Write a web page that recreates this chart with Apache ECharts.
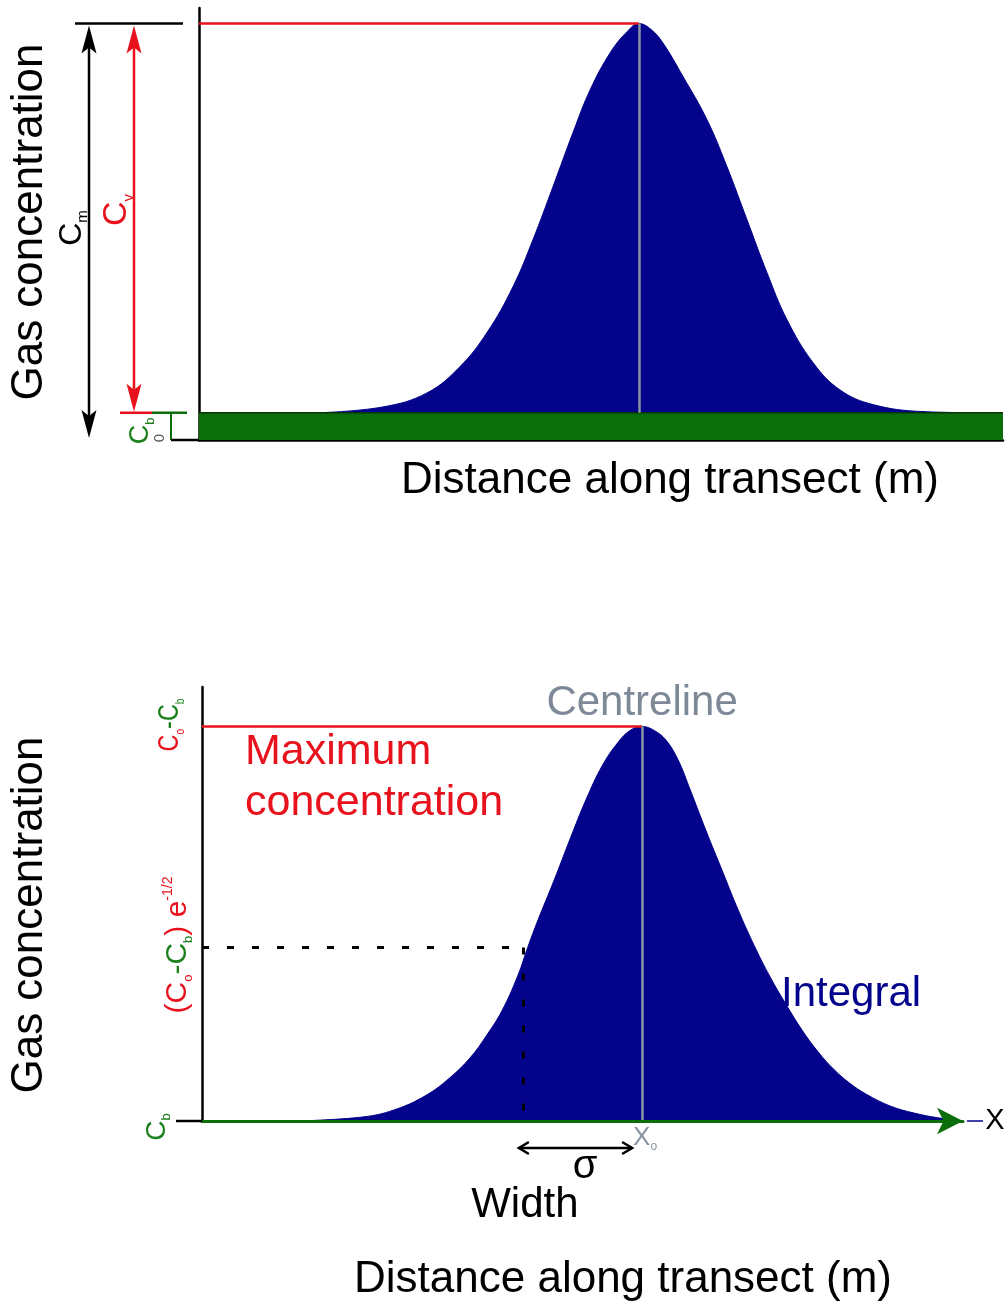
<!DOCTYPE html>
<html>
<head>
<meta charset="utf-8">
<script src="https://cdn.jsdelivr.net/npm/echarts@6/dist/echarts.min.js"></script>
<style>
  html, body { margin: 0; padding: 0; background: #ffffff; }
  #chart { width: 1007px; height: 1303px; }
</style>
</head>
<body>
<div id="chart"></div>
<script>
// ---- Upper panel: plume profile sitting on a background concentration ----
const topDistance = [15, 23, 28.5, 32.6, 36, 39.25, 41.75, 44.25, 46.75, 48.9, 51.4, 53.5, 55,
                     56.5, 58, 60.5, 63.5, 66, 68.5, 71, 73.5, 76.75, 80.1, 84.25, 90.5, 98];
const topExcess   = [0, 1.5, 5.1, 11.8, 20.6, 32.4, 44.5, 58.1, 72, 83, 92.5, 97.9, 100,
                     98.5, 95, 86.4, 75.3, 63.2, 49.6, 36, 23.9, 12.9, 5.9, 2.1, 0.3, 0];
const topBackground = 7;     // C_b
const topPeak = 100;         // C_v (peak above background)
const topXMax = 100.5;
const topYMax = 111;

// ---- Lower panel: Gaussian description (concentration above background) ----
const lowDistance = [12, 20, 24, 28, 31, 33.5, 35.5, 37.5, 39.5, 40.7, 42, 44, 46, 48, 50, 52, 53.5, 55,
                     56.5, 58, 59.5, 61, 63, 65, 67, 69, 71, 73, 75, 77, 79, 81, 83, 86, 89, 92, 95];
const lowExcess   = [0, 1, 2.8, 6.5, 11, 16, 21.5, 28, 37, 44, 51, 61, 71.5, 81.5, 90, 96, 99, 100,
                     99, 96.5, 91.5, 84, 73.5, 63.5, 53.5, 44.5, 36.5, 29.5, 23, 17.5, 13, 9.5, 6.8, 3.8, 2, 0.8, 0];
const lowPeak = 100;         // C_o - C_b
const sigmaDistance = 40.1;  // x_o - sigma
const sigmaLevel = 44;       // level marked as (C_o - C_b) e^-1/2
const lowXMax = 95.1;
const lowYMax = 110;

const centreDistance = 55;   // x_o

const NAVY = '#03038c', RED = '#e8121c', GREEN = '#0b6e0b', GREEN_TXT = '#1b801b',
      GREY = '#8a94a3', FONT = '"Liberation Sans", Arial, Helvetica, sans-serif';

const chart = echarts.init(document.getElementById('chart'), null, { renderer: 'canvas' });

const hiddenAxisBits = {
  axisTick: { show: false }, axisLabel: { show: false }, splitLine: { show: false }
};

chart.setOption({
  animation: false,
  backgroundColor: '#ffffff',
  grid: [
    { left: 199, top: 8, width: 804, height: 432 },
    { left: 202, top: 687, width: 761, height: 434 }
  ],
  xAxis: [
    Object.assign({ type: 'value', gridIndex: 0, min: 0, max: topXMax,
      axisLine: { lineStyle: { color: '#000', width: 2.5 } } }, hiddenAxisBits),
    Object.assign({ type: 'value', gridIndex: 1, min: 0, max: lowXMax, z: 5,
      axisLine: { symbol: ['none', 'arrow'], symbolSize: [20, 26], symbolOffset: [0, 0],
                  lineStyle: { color: GREEN, width: 3 } } }, hiddenAxisBits)
  ],
  yAxis: [
    Object.assign({ type: 'value', gridIndex: 0, min: 0, max: topYMax,
      axisLine: { show: true, lineStyle: { color: '#000', width: 2.5 } } }, hiddenAxisBits),
    Object.assign({ type: 'value', gridIndex: 1, min: 0, max: lowYMax,
      axisLine: { show: true, lineStyle: { color: '#000', width: 2.5 } } }, hiddenAxisBits)
  ],
  series: [
    {
      name: 'Plume',
      type: 'line', xAxisIndex: 0, yAxisIndex: 0,
      data: topDistance.map((d, i) => [d, topBackground + topExcess[i]]),
      smooth: 0.4, showSymbol: false, z: 2,
      lineStyle: { color: NAVY, width: 1 },
      areaStyle: { color: NAVY, opacity: 1, origin: 'start' },
      markLine: {
        silent: true, symbol: 'none', label: { show: false }, z: 4,
        data: [
          [{ coord: [0, topBackground + topPeak], lineStyle: { color: RED, width: 2.5, type: 'solid' } },
           { coord: [centreDistance, topBackground + topPeak] }],
          [{ coord: [centreDistance, topBackground], lineStyle: { color: GREY, width: 2.5, type: 'solid' } },
           { coord: [centreDistance, topBackground + topPeak] }]
        ]
      }
    },
    {
      name: 'Background',
      type: 'line', xAxisIndex: 0, yAxisIndex: 0,
      data: [[0, topBackground], [topXMax, topBackground]],
      showSymbol: false, z: 3,
      lineStyle: { color: '#073507', width: 1.5 },
      areaStyle: { color: GREEN, opacity: 1, origin: 'start' }
    },
    {
      name: 'Gaussian',
      type: 'line', xAxisIndex: 1, yAxisIndex: 1,
      data: lowDistance.map((d, i) => [d, lowExcess[i]]),
      smooth: 0.4, showSymbol: false, z: 2,
      lineStyle: { color: NAVY, width: 1 },
      areaStyle: { color: NAVY, opacity: 1, origin: 'start' },
      markLine: {
        silent: true, symbol: 'none', label: { show: false }, z: 4,
        data: [
          [{ coord: [0, lowPeak], lineStyle: { color: RED, width: 2.5, type: 'solid' } },
           { coord: [centreDistance, lowPeak] }],
          [{ coord: [centreDistance, 0], lineStyle: { color: GREY, width: 2.5, type: 'solid' } },
           { coord: [centreDistance, lowPeak] }],
          [{ coord: [0, sigmaLevel], lineStyle: { color: '#000', width: 3, type: [7, 18] } },
           { coord: [sigmaDistance - 1, sigmaLevel] }],
          [{ coord: [sigmaDistance, sigmaLevel], lineStyle: { color: '#000', width: 3, type: [7, 19] } },
           { coord: [sigmaDistance, 0] }]
        ]
      }
    }
  ]
});

// ---- Annotations placed from the axes' own scales ----
const px = (g, x, y) => chart.convertToPixel({ xAxisIndex: g, yAxisIndex: g }, [x, y]);

function line(x1, y1, x2, y2, color, w) {
  return { type: 'line', shape: { x1, y1, x2, y2 }, style: { stroke: color, lineWidth: w }, z: 10 };
}
function arrowHead(x, tip, dir, color) {
  // barbed arrow head pointing up (dir = -1) or down (dir = 1)
  return { type: 'polygon', z: 11,
    shape: { points: [[x, tip], [x - 7.5, tip - dir * 28], [x, tip - dir * 22], [x + 7.5, tip - dir * 28]] },
    style: { fill: color } };
}
function chevron(x, y, dir) {
  return { type: 'polyline', z: 11,
    shape: { points: [[x + dir * 10, y - 6], [x, y], [x + dir * 10, y + 6]] },
    style: { stroke: '#000', lineWidth: 2.5, fill: null } };
}
function text(x, y, str, opt) {
  return { type: 'text', x, y, z: 12, rotation: opt.rotation || 0, scaleX: opt.scaleX || 1,
    style: Object.assign({ text: str, fontFamily: FONT, textAlign: 'center', textVerticalAlign: 'middle' }, opt.style) };
}
const VERT = Math.PI / 2;

const yTopPeak = px(0, 0, topBackground + topPeak)[1];
const yTopBg = px(0, 0, topBackground)[1];
const yTop0 = px(0, 0, 0)[1];
const xTopAxis = px(0, 0, 0)[0];

const yLow0 = px(1, 0, 0)[1];
const xLowAxis = px(1, 0, 0)[0];
const xLowCentre = px(1, centreDistance, 0)[0];
const xLowSigma = px(1, sigmaDistance, 0)[0];
const xLowEnd = px(1, lowXMax, 0)[0];

const sub = (size, color) => ({ fontSize: size, lineHeight: size, verticalAlign: 'bottom', fill: color, fontFamily: FONT });
const sup = (size, color) => ({ fontSize: size, lineHeight: size, verticalAlign: 'top', fill: color, fontFamily: FONT });
const main = (size, color) => ({ fontSize: size, lineHeight: size + 4, fill: color, fontFamily: FONT });

const graphics = [
  // upper panel: C_m and C_v dimension arrows
  line(75, yTopPeak, 183, yTopPeak, '#000', 2.5),
  line(89, yTopPeak + 10, 89, yTop0 - 10, '#000', 2.5),
  arrowHead(89, yTopPeak + 2, -1, '#000'),
  arrowHead(89, yTop0 - 2, 1, '#000'),
  line(134, yTopPeak + 10, 134, yTopBg - 10, RED, 2.5),
  arrowHead(134, yTopPeak + 2, -1, RED),
  arrowHead(134, yTopBg - 1, 1, RED),
  line(120, yTopBg, 152, yTopBg, RED, 2.5),
  line(152, yTopBg, 187, yTopBg, GREEN, 2.5),
  line(171, yTopBg, 171, yTop0, GREEN, 2),
  line(171, yTop0, xTopAxis, yTop0, '#000', 2.5),
  text(72, 228, '{c|C}{s|m}', { rotation: VERT, style: { rich: { c: main(32, '#000'), s: sub(15, '#000') } } }),
  text(117, 210, '{c|C}{s|v}', { rotation: VERT, style: { rich: { c: main(34, RED), s: sub(15, RED) } } }),
  text(141, 431, '{c|C}{s|b}', { rotation: VERT, style: { rich: { c: main(27, GREEN_TXT), s: sub(13, GREEN_TXT) } } }),
  text(160, 438, '0', { rotation: VERT, style: { fontSize: 15, fill: '#555' } }),
  text(30, 222, 'Gas concentration', { rotation: VERT, style: { fontSize: 44, fill: '#000' } }),
  text(670, 481, 'Distance along transect (m)', { style: { fontSize: 44, fill: '#000' } }),

  // lower panel
  line(176, yLow0, xLowAxis, yLow0, '#000', 2.5),
  line(xLowEnd + 4, yLow0, xLowEnd + 20, yLow0, NAVY, 1.5),
  text(995, yLow0, 'X', { style: { fontSize: 29, fill: '#000' } }),
  text(xLowCentre, 703, 'Centreline', { style: { fontSize: 42, fill: '#7d8997' } }),
  text(245, 752, 'Maximum', { style: { fontSize: 43, fill: RED, textAlign: 'left' } }),
  text(245, 803, 'concentration', { style: { fontSize: 43, fill: RED, textAlign: 'left' } }),
  text(781, 994, 'Integral', { style: { fontSize: 42, fill: NAVY, textAlign: 'left' } }),
  line(xLowSigma - 4, yLow0 + 27, xLowCentre - 10, yLow0 + 27, '#000', 2.5),
  chevron(xLowSigma - 4, yLow0 + 27, 1),
  chevron(xLowCentre - 10, yLow0 + 27, -1),
  text(585, 1167, 'σ', { style: { fontSize: 40, fill: '#000' } }),
  text(xLowSigma + 2, 1205, 'Width', { style: { fontSize: 42, fill: '#000' } }),
  text(xLowCentre - 9, 1138, '{c|X}{s|o}', { style: { textAlign: 'left', rich: { c: main(26, GREY), s: sub(12, GREY) } } }),
  text(170, 725, '{r|C}{rs|o}{g|-C}{gs|b}', { rotation: VERT, scaleX: 0.78, style: { rich: {
      r: main(30, RED), rs: sub(13, RED), g: main(30, GREEN_TXT), gs: sub(13, GREEN_TXT) } } }),
  text(178, 945, '{r|(C}{rs|o}{g|-C}{gs|b}{r|) e}{up|-1/2}', { rotation: VERT, style: { rich: {
      r: main(30, RED), rs: sub(13, RED), g: main(30, GREEN_TXT), gs: sub(13, GREEN_TXT), up: sup(14, RED) } } }),
  text(157, 1127, '{c|C}{s|b}', { rotation: VERT, style: { rich: { c: main(28, GREEN_TXT), s: sub(13, GREEN_TXT) } } }),
  text(30, 915, 'Gas concentration', { rotation: VERT, style: { fontSize: 44, fill: '#000' } }),
  text(623, 1280, 'Distance along transect (m)', { style: { fontSize: 44, fill: '#000' } })
];

chart.setOption({ graphic: { elements: graphics } });
</script>
</body>
</html>
